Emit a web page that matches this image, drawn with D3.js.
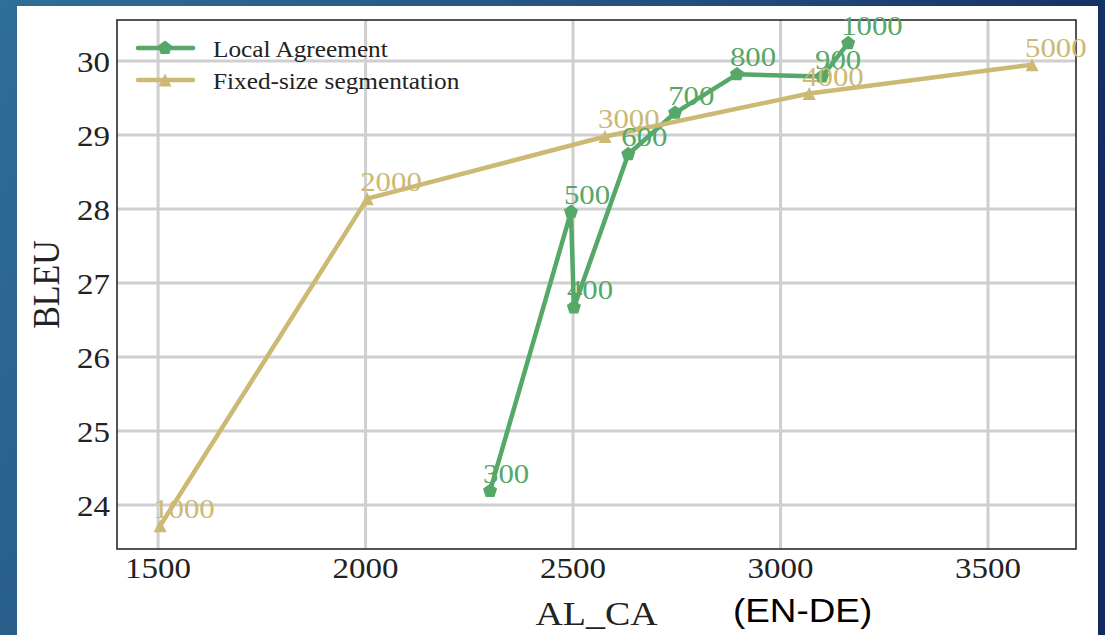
<!DOCTYPE html>
<html>
<head>
<meta charset="utf-8">
<script src="https://cdn.jsdelivr.net/npm/d3@7"></script>
<style>
  html, body { margin: 0; padding: 0; }
  body { width: 1105px; height: 635px; overflow: hidden; }
</style>
</head>
<body>
<div id="chart"></div>
<script>
// Local Agreement (label = chunk size)
var laLabels = ["300", "400", "500", "600", "700", "800", "900", "1000"];
var laAL = [2300, 2502, 2495, 2633, 2746, 2895, 3100, 3163];
var laBLEU = [24.19, 26.67, 27.96, 28.74, 29.30, 29.82, 29.79, 30.24];

// Fixed-size segmentation
var fsLabels = ["1000", "2000", "3000", "4000", "5000"];
var fsAL = [1505, 2004, 2577, 3069, 3606];
var fsBLEU = [23.72, 28.14, 28.98, 29.56, 29.95];

var xTicks = [1500, 2000, 2500, 3000, 3500];
var yTicks = [24, 25, 26, 27, 28, 29, 30];

var green = "#55a868", gold = "#ccb974";
var serif = "'Liberation Serif', 'Times New Roman', serif";
var SX = 1.1; // the picture is slightly stretched horizontally

var W = 1105, H = 635;
var margin = {left: 117, top: 20, right: 1076, bottom: 549};

var svg = d3.select("#chart").append("svg")
    .attr("width", W)
    .attr("height", H);

// slide background
var grad = svg.append("defs").append("linearGradient")
    .attr("id", "bg").attr("x1", "0").attr("y1", "0").attr("x2", "1").attr("y2", "0.3");
grad.append("stop").attr("offset", "0%").attr("stop-color", "#2f6e97");
grad.append("stop").attr("offset", "55%").attr("stop-color", "#24507f");
grad.append("stop").attr("offset", "100%").attr("stop-color", "#132a63");
svg.append("rect").attr("width", W).attr("height", H).attr("fill", "url(#bg)");
svg.append("rect").attr("x", 17).attr("y", 6).attr("width", 1081).attr("height", H - 6)
    .attr("fill", "#ffffff");

var x = d3.scaleLinear().domain([1401, 3712]).range([margin.left, margin.right]);
var y = d3.scaleLinear().domain([23.405, 30.554]).range([margin.bottom, margin.top]);

// text helper, stretched like the original
function label(g, str, px, py, size, anchor, color, family, rot) {
    return g.append("text")
        .text(str)
        .attr("transform", "translate(" + px + "," + py + ") scale(" + SX + ",1)" + (rot ? " rotate(" + rot + ")" : ""))
        .attr("text-anchor", anchor)
        .attr("font-family", family || serif)
        .attr("font-size", size + "px")
        .attr("fill", color);
}

// grid
svg.selectAll("line.vgrid")
    .data(xTicks)
    .enter()
    .append("line")
    .attr("x1", function (d) { return x(d); })
    .attr("x2", function (d) { return x(d); })
    .attr("y1", margin.top)
    .attr("y2", margin.bottom)
    .attr("stroke", "#cfcfcf")
    .attr("stroke-width", 3);

svg.selectAll("line.hgrid")
    .data(yTicks)
    .enter()
    .append("line")
    .attr("x1", margin.left)
    .attr("x2", margin.right)
    .attr("y1", function (d) { return y(d); })
    .attr("y2", function (d) { return y(d); })
    .attr("stroke", "#cfcfcf")
    .attr("stroke-width", 3);

// tick labels
xTicks.forEach(function (d) {
    label(svg, d, x(d), 578, 30, "middle", "#222");
});
yTicks.forEach(function (d) {
    label(svg, d, 110, y(d) + 11, 30, "end", "#222");
});

// frame
svg.append("rect")
    .attr("x", margin.left).attr("y", margin.top)
    .attr("width", margin.right - margin.left)
    .attr("height", margin.bottom - margin.top)
    .attr("fill", "none")
    .attr("stroke", "#2a2a2a")
    .attr("stroke-width", 1.6);

// axis titles
label(svg, "AL_CA", (margin.left + margin.right) / 2, 625, 34.5, "middle", "#222");
label(svg, "(EN-DE)", 733, 622, 33.5, "start", "#000", "'Liberation Sans', Arial, sans-serif");
label(svg, "BLEU", 59, (margin.top + margin.bottom) / 2, 34, "middle", "#222", null, -90);

// markers
function pentagon(r) {
    var p = d3.path();
    for (var i = 0; i < 5; i++) {
        var a = -Math.PI / 2 + i * 2 * Math.PI / 5;
        if (i == 0) p.moveTo(r * Math.cos(a), r * Math.sin(a));
        else p.lineTo(r * Math.cos(a), r * Math.sin(a));
    }
    p.closePath();
    return p.toString();
}
function triangle(r) {
    return "M0," + (-r) + "L" + (-r) + "," + r + "L" + r + "," + r + "Z";
}

var laData = laLabels.map(function (l, i) { return {label: l, al: laAL[i], bleu: laBLEU[i]}; });
var fsData = fsLabels.map(function (l, i) { return {label: l, al: fsAL[i], bleu: fsBLEU[i]}; });

var line = d3.line()
    .x(function (d) { return x(d.al); })
    .y(function (d) { return y(d.bleu); });

function drawSeries(data, color, shape) {
    var sorted = d3.sort(data, function (d) { return d.al; });
    svg.append("path")
        .datum(sorted)
        .attr("d", line)
        .attr("fill", "none")
        .attr("stroke", color)
        .attr("stroke-width", 4.5)
        .attr("stroke-linejoin", "round");
    svg.selectAll(null)
        .data(data)
        .enter()
        .append("path")
        .attr("d", shape)
        .attr("transform", function (d) { return "translate(" + x(d.al) + "," + y(d.bleu) + ")"; })
        .attr("fill", color);
}

drawSeries(laData, green, pentagon(7.4));
drawSeries(fsData, gold, triangle(6.5));

// point annotations
laData.forEach(function (d) {
    label(svg, d.label, x(d.al) - 7, y(d.bleu) - 8, 28, "start", green);
});
fsData.forEach(function (d) {
    label(svg, d.label, x(d.al) - 7, y(d.bleu) - 8, 28, "start", gold);
});

// legend
var legend = [
    {name: "Local Agreement", color: green, shape: pentagon(7.4), y: 48},
    {name: "Fixed-size segmentation", color: gold, shape: triangle(6.5), y: 80}
];
legend.forEach(function (d) {
    svg.append("line")
        .attr("x1", 138).attr("x2", 193)
        .attr("y1", d.y).attr("y2", d.y)
        .attr("stroke", d.color)
        .attr("stroke-width", 4.5)
        .attr("stroke-linecap", "round");
    svg.append("path")
        .attr("d", d.shape)
        .attr("transform", "translate(165," + d.y + ")")
        .attr("fill", d.color);
    label(svg, d.name, 213, d.y + 8.5, 23, "start", "#222");
});
</script>
</body>
</html>
